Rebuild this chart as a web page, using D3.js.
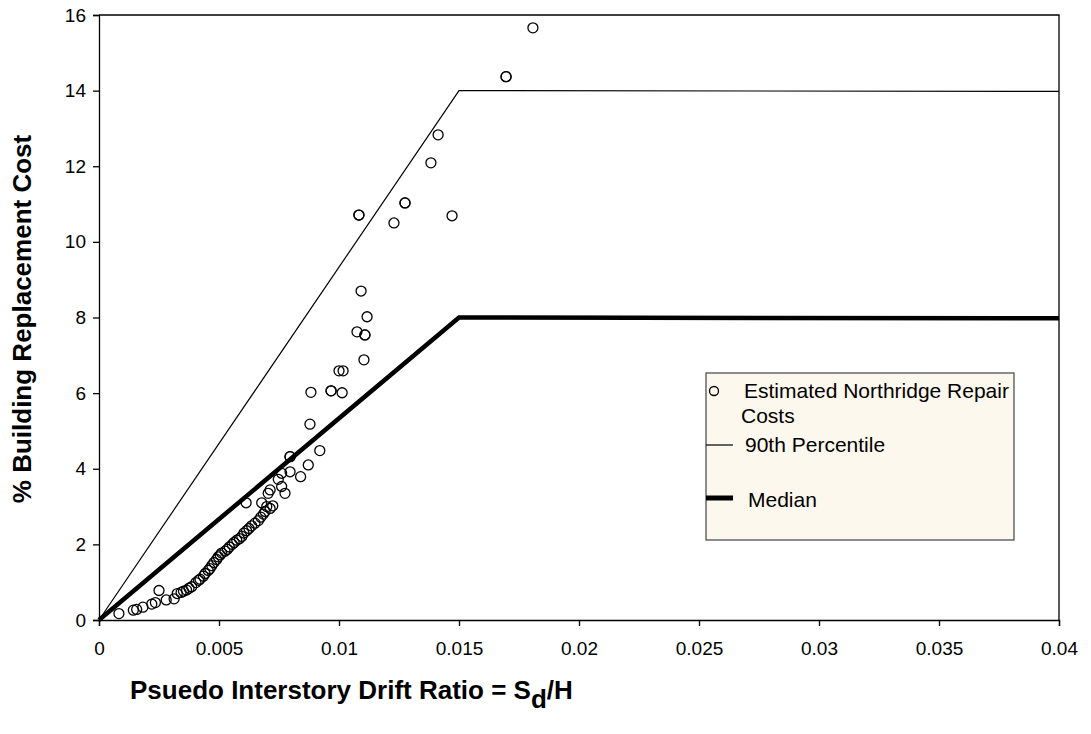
<!DOCTYPE html>
<html>
<head>
<meta charset="utf-8">
<script src="https://cdn.jsdelivr.net/npm/d3@7"></script>
<style>
  html, body { margin: 0; padding: 0; background: #fff; }
  svg { display: block; font-family: "Liberation Sans", Arial, sans-serif; }
</style>
</head>
<body>
<svg id="chart" width="1091" height="734"></svg>
<script>
// ---- data ----
const xTicks = [0, 0.005, 0.01, 0.015, 0.02, 0.025, 0.03, 0.035, 0.04];
const yTicks = [0, 2, 4, 6, 8, 10, 12, 14, 16];
const xTickLabels = ["0", "0.005", "0.01", "0.015", "0.02", "0.025", "0.03", "0.035", "0.04"];

const percentile90X = [0, 0.015, 0.04];
const percentile90Y = [0, 14, 13.98];
const medianX = [0, 0.015, 0.04];
const medianY = [0, 8, 7.98];

const repairDrift = [
  0.00083, 0.00143, 0.00157, 0.00183, 0.0022, 0.00235, 0.0025, 0.0028, 0.00313, 0.00326,
  0.00342, 0.00352, 0.00365, 0.00375, 0.00386, 0.00404, 0.00415, 0.00421, 0.00435, 0.00442,
  0.00455, 0.00462, 0.0047, 0.00479, 0.0049, 0.00497, 0.00505, 0.00511, 0.00525, 0.00535,
  0.00543, 0.00555, 0.00563, 0.00574, 0.00585, 0.00595, 0.00604, 0.00615, 0.00625, 0.00636,
  0.0065, 0.00664, 0.00674, 0.00685, 0.00692, 0.00699, 0.00713, 0.00724, 0.00678, 0.00613,
  0.00705, 0.00713, 0.00761, 0.00775, 0.00747, 0.00761, 0.00796, 0.0084, 0.00796, 0.00796,
  0.00872, 0.00879, 0.0092,
  0.00883, 0.00967, 0.00967, 0.01013, 0.01, 0.01017, 0.01104, 0.01075, 0.01108, 0.01108,
  0.01117, 0.01092, 0.01229, 0.01083, 0.01083, 0.01471, 0.01275, 0.01275, 0.01383, 0.01413,
  0.01696, 0.01696, 0.01808
];
const repairCost = [
  0.17, 0.26, 0.28, 0.34, 0.42, 0.46, 0.78, 0.53, 0.56, 0.70,
  0.73, 0.76, 0.79, 0.84, 0.88, 0.99, 1.05, 1.08, 1.16, 1.23,
  1.31, 1.36, 1.44, 1.52, 1.60, 1.67, 1.72, 1.77, 1.82, 1.87,
  1.93, 2.00, 2.05, 2.11, 2.15, 2.21, 2.30, 2.36, 2.42, 2.49,
  2.56, 2.63, 2.72, 2.80, 2.87, 3.00, 2.95, 3.02, 3.10, 3.10,
  3.35, 3.44, 3.53, 3.35, 3.72, 3.88, 3.92, 3.79, 4.32, 4.32,
  4.10, 5.18, 4.48,
  6.02, 6.06, 6.06, 6.01, 6.59, 6.59, 6.88, 7.62, 7.54, 7.54,
  8.02, 8.70, 10.50, 10.71, 10.71, 10.69, 11.03, 11.03, 12.09, 12.83,
  14.37, 14.37, 15.66
];

const legendLabels = ["Estimated Northridge Repair", "Costs", "90th Percentile", "Median"];
const xTitle = "Psuedo Interstory Drift Ratio = S";
const yTitle = "% Building Replacement Cost";

// ---- layout ----
const svg = d3.select("#chart");
const plot = { left: 99, right: 1059, top: 15, bottom: 620 };
const tickFont = 19;
const legendFont = 21;
const titleFont = 26;

const x = d3.scaleLinear().domain([0, 0.04]).range([plot.left, plot.right]);
const y = d3.scaleLinear().domain([0, 16]).range([plot.bottom, plot.top]);

// frame (top and right)
svg.append("path")
  .attr("d", `M${plot.left},${plot.top}H${plot.right}V${plot.bottom}`)
  .attr("fill", "none").attr("stroke", "#000").attr("stroke-width", 1.3);

// axes
const xAxis = d3.axisBottom(x).tickValues(xTicks).tickSize(6).tickPadding(16)
  .tickFormat((d, i) => xTickLabels[i]);
const gx = svg.append("g").attr("transform", `translate(0,${plot.bottom})`).call(xAxis);
gx.select(".domain").attr("stroke-width", 1.3);
gx.selectAll(".tick line").attr("stroke-width", 1.3);
gx.selectAll("text").attr("font-size", tickFont).attr("font-family", "Liberation Sans, Arial, sans-serif").attr("fill", "#000");

const yAxis = d3.axisLeft(y).tickValues(yTicks).tickSize(6).tickPadding(7);
const gy = svg.append("g").attr("transform", `translate(${plot.left},0)`).call(yAxis);
gy.select(".domain").attr("stroke-width", 1.3);
gy.selectAll(".tick line").attr("stroke-width", 1.3);
gy.selectAll("text").attr("font-size", tickFont).attr("font-family", "Liberation Sans, Arial, sans-serif").attr("fill", "#000");

// lines
const line = d3.line().x(d => x(d[0])).y(d => y(d[1]));
svg.append("path")
  .datum(percentile90X.map((v, i) => [v, percentile90Y[i]]))
  .attr("d", line).attr("fill", "none").attr("stroke", "#000").attr("stroke-width", 1.2);
svg.append("path")
  .datum(medianX.map((v, i) => [v, medianY[i]]))
  .attr("d", line).attr("fill", "none").attr("stroke", "#000").attr("stroke-width", 4.5);

// points
svg.append("g").selectAll("circle")
  .data(repairDrift.map((v, i) => [v, repairCost[i]]))
  .join("circle")
  .attr("cx", d => x(d[0])).attr("cy", d => y(d[1])).attr("r", 5)
  .attr("fill", "none").attr("stroke", "#000").attr("stroke-width", 1.3);

// legend
const lg = svg.append("g");
lg.append("rect").attr("x", 706).attr("y", 373).attr("width", 308).attr("height", 167)
  .attr("fill", "#fdf8ee").attr("stroke", "#444").attr("stroke-width", 1.2);
lg.append("circle").attr("cx", 714).attr("cy", 391).attr("r", 4.5)
  .attr("fill", "none").attr("stroke", "#000").attr("stroke-width", 1.3);
lg.append("text").attr("x", 744).attr("y", 398).attr("font-size", legendFont).text(legendLabels[0]);
lg.append("text").attr("x", 741).attr("y", 423).attr("font-size", legendFont).text(legendLabels[1]);
lg.append("line").attr("x1", 706).attr("x2", 733).attr("y1", 445).attr("y2", 445)
  .attr("stroke", "#000").attr("stroke-width", 1.2);
lg.append("text").attr("x", 745).attr("y", 452).attr("font-size", legendFont).text(legendLabels[2]);
lg.append("line").attr("x1", 706).attr("x2", 733).attr("y1", 498).attr("y2", 498)
  .attr("stroke", "#000").attr("stroke-width", 5);
lg.append("text").attr("x", 748).attr("y", 507).attr("font-size", legendFont).text(legendLabels[3]);

// axis titles
const xt = svg.append("text").attr("x", 130).attr("y", 699)
  .attr("font-size", titleFont).attr("font-weight", "bold");
xt.append("tspan").text(xTitle);
xt.append("tspan").attr("dy", 9).text("d");
xt.append("tspan").attr("dy", -9).text("/H");

svg.append("text")
  .attr("transform", "translate(31,319) rotate(-90)")
  .attr("text-anchor", "middle").attr("font-size", titleFont).attr("font-weight", "bold")
  .text(yTitle);
</script>
</body>
</html>
